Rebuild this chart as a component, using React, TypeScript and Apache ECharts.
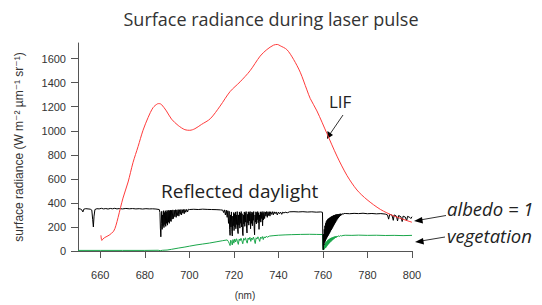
import React, { useEffect, useRef } from "react";
import * as echarts from "echarts";

const titleText = "Surface radiance during laser pulse";
const yAxisName = "surface radiance (W m⁻² µm⁻¹ sr⁻¹)";
const xAxisName = "(nm)";
const xTicks = [660, 680, 700, 720, 740, 760, 780, 800];
const yTicks = [0, 200, 400, 600, 800, 1000, 1200, 1400, 1600];

const lifData: number[][] = [
  [660.3, 130], [660.7, 88], [661.2, 100], [662, 112], [664, 132], [666, 165], [667, 210],
  [668, 279], [670.2, 440], [672.5, 574], [674.7, 735], [677, 870], [679.2, 1004],
  [681.5, 1111], [683.7, 1192], [685.7, 1224], [686.5, 1226], [687.5, 1218], [689.7, 1165],
  [692, 1097], [695, 1044], [698, 1009], [700.2, 1004], [702.5, 1017], [705.4, 1052],
  [709.4, 1100], [713.8, 1205], [718.3, 1326], [722.8, 1407], [727.3, 1500], [731.8, 1621],
  [734.8, 1675], [737.8, 1712], [739.5, 1718], [740.8, 1707], [743.8, 1675], [746.8, 1594],
  [749.8, 1487], [752.8, 1340], [754.3, 1268], [757.3, 1165], [761.8, 977], [766.3, 789],
  [770.8, 628], [775.3, 507], [779.8, 427], [785.8, 346], [791.8, 292], [800, 239],
];

const albedoData: number[][] = [
  [650, 352], [651, 350], [651.8, 340], [652.2, 325], [652.6, 348], [653.5, 352], [654.5, 350],
  [655.5, 348], [656.2, 340], [656.6, 260], [656.9, 200], [657.2, 290], [657.6, 345], [658.5, 352],
  [659.5, 350], [660.5, 355], [661.5, 350], [662.5, 353], [663.5, 349], [664.5, 354], [665.5, 351],
  [666.5, 355], [667.5, 350], [668.5, 353], [670, 350], [671.5, 354], [673, 351], [674.5, 353],
  [676, 350], [677.5, 352], [679, 349], [680.5, 352], [682, 350], [683.5, 351], [685, 349],
  [686.5, 345], [686.8, 320], [687, 190], [687.2, 118], [687.4, 230], [687.6, 330], [687.8, 180],
  [688, 300], [688.2, 210], [688.4, 335], [688.6, 195], [688.8, 320], [689, 220], [689.2, 335],
  [689.4, 205], [689.6, 325], [689.8, 230], [690, 338], [690.2, 215], [690.4, 330], [690.6, 240],
  [690.8, 340], [691, 230], [691.2, 335], [691.4, 250], [691.6, 340], [691.8, 245], [692, 338],
  [692.3, 265], [692.6, 342], [692.9, 270], [693.2, 340], [693.5, 285], [693.8, 343], [694.1, 280],
  [694.4, 342], [694.7, 295], [695, 344], [695.3, 290], [695.6, 343], [695.9, 305], [696.2, 345],
  [696.5, 300], [696.8, 344], [697.1, 315], [697.4, 345], [697.7, 310], [698, 346], [698.4, 322],
  [698.8, 346], [699.2, 325], [699.6, 347], [700, 345],
  [702, 347], [704, 345], [706, 348], [708, 346], [710, 345], [712, 344], [714, 342],
  [715, 340], [715.4, 320], [715.8, 342], [716.2, 300], [716.6, 340], [717, 280], [717.3, 335],
  [717.6, 230], [717.9, 330], [718.1, 180], [718.3, 130], [718.5, 300], [718.7, 200], [718.9, 325],
  [719.1, 160], [719.3, 125], [719.5, 290], [719.7, 210], [719.9, 320], [720.1, 170], [720.3, 310],
  [720.5, 200], [720.7, 325], [720.9, 185], [721.1, 300], [721.3, 220], [721.5, 328], [721.7, 175],
  [721.9, 145], [722.1, 300], [722.3, 215], [722.5, 325], [722.7, 190], [722.9, 315], [723.1, 230],
  [723.3, 328], [723.5, 200], [723.7, 310], [723.9, 150], [724.1, 128], [724.3, 300], [724.5, 225],
  [724.7, 325], [724.9, 205], [725.1, 318], [725.3, 240], [725.5, 328], [725.7, 190], [725.9, 150],
  [726.1, 305], [726.3, 235], [726.5, 326], [726.7, 215], [726.9, 320], [727.1, 250], [727.3, 328],
  [727.5, 185], [727.7, 310], [727.9, 230], [728.1, 325], [728.3, 210], [728.5, 318], [728.7, 255],
  [728.9, 328], [729.1, 200], [729.3, 135], [729.5, 300], [729.7, 240], [729.9, 326], [730.1, 225],
  [730.3, 320], [730.5, 260], [730.7, 328], [730.9, 235], [731.1, 318], [731.3, 180], [731.5, 300],
  [731.7, 250], [731.9, 326], [732.1, 240], [732.3, 320], [732.5, 270], [732.7, 328], [732.9, 210],
  [733.1, 315], [733.3, 260], [733.5, 327], [733.8, 270], [734.1, 325], [734.4, 290], [734.7, 328],
  [735, 280], [735.3, 326], [735.6, 295], [735.9, 327], [736.2, 290], [736.5, 326], [736.9, 305],
  [737.3, 327], [737.7, 300], [738.1, 326], [738.5, 310], [739, 325], [739.5, 300], [740, 324],
  [740.5, 310], [741, 323], [741.5, 305], [742, 324], [742.5, 315], [743, 323], [744, 318],
  [745, 326], [747, 327], [749, 325], [751, 327], [753, 324], [755, 326], [757, 323], [759, 325],
  [759.8, 322], [760, 40], [760.15, 10], [760.3, 140], [760.45, 50], [760.6, 180], [760.75, 70],
  [760.9, 210], [761.05, 80], [761.2, 230], [761.35, 95], [761.5, 245], [761.65, 105], [761.8, 255],
  [761.95, 115], [762.1, 262], [762.25, 125], [762.4, 268], [762.55, 135], [762.7, 272],
  [762.85, 145], [763, 276], [763.15, 155], [763.3, 280], [763.45, 165], [763.6, 284],
  [763.75, 175], [763.9, 287], [764.05, 185], [764.2, 290], [764.35, 195], [764.5, 293],
  [764.65, 205], [764.8, 296], [764.95, 215], [765.1, 298], [765.25, 225], [765.4, 300],
  [765.55, 235], [765.7, 302], [765.85, 245], [766, 304], [766.2, 255], [766.4, 306], [766.6, 265],
  [766.8, 307], [767, 275], [767.2, 308], [767.4, 285], [767.6, 309], [767.8, 292], [768, 310],
  [768.3, 298], [768.6, 311], [769, 305], [769.5, 312], [770, 312],
  [772, 310], [774, 313], [776, 311], [778, 314], [780, 310], [782, 312],
  [784, 309], [786, 311], [788, 307], [789, 300], [789.5, 265], [790, 305], [791, 298],
  [791.6, 255], [792, 300], [793, 290], [793.5, 250], [794, 295], [795, 285], [795.6, 245],
  [796, 290], [797, 282], [797.6, 250], [798, 288], [799, 280], [799.5, 270], [800, 285],
];

const vegetationData: number[][] = [
  [650, 5], [660, 5], [670, 5], [680, 5], [686, 6], [687, 3], [688, 6], [690, 8], [692, 14],
  [695, 24], [698, 33], [700, 40], [703, 50], [706, 58], [709, 66], [712, 76], [715, 86],
  [717, 92], [717.5, 80], [718, 60], [718.3, 45], [718.6, 90], [719, 70], [719.3, 50],
  [719.6, 95], [720, 65], [720.4, 100], [720.8, 75], [721.2, 102], [721.6, 80], [722, 55],
  [722.4, 100], [722.8, 85], [723.2, 106], [723.6, 85], [724, 60], [724.4, 105], [724.8, 90],
  [725.2, 110], [725.6, 85], [726, 65], [726.4, 108], [726.8, 95], [727.2, 114], [727.6, 80],
  [728, 108], [728.4, 95], [728.8, 116], [729.2, 90], [729.6, 62], [730, 110], [730.4, 100],
  [730.8, 118], [731.2, 102], [731.6, 80], [732, 115], [732.4, 105], [732.8, 120], [733.2, 95],
  [733.6, 118], [734, 108], [734.5, 122], [735, 115], [736, 124], [738, 128], [740, 131],
  [743, 134], [746, 136], [750, 138], [754, 139], [757, 138], [759.8, 137], [760, 15],
  [760.15, 8], [760.3, 45], [760.45, 12], [760.6, 55], [760.75, 18], [760.9, 62], [761.05, 25],
  [761.2, 70], [761.35, 30], [761.5, 76], [761.65, 38], [761.8, 82], [761.95, 45], [762.1, 88],
  [762.25, 52], [762.4, 93], [762.55, 58], [762.7, 98], [762.85, 65], [763, 102], [763.2, 72],
  [763.4, 106], [763.6, 78], [763.8, 110], [764, 85], [764.2, 113], [764.4, 92], [764.6, 116],
  [764.8, 98], [765, 119], [765.2, 104], [765.4, 121], [765.6, 108], [765.8, 123], [766, 112],
  [766.3, 125], [766.6, 117], [767, 127], [767.4, 121], [767.8, 128], [768.3, 125], [769, 129],
  [770, 131], [773, 130], [776, 132], [780, 130], [784, 131], [788, 129], [792, 130],
  [796, 128], [800, 130],
];

const annotationLabels = ["LIF", "Reflected daylight", "albedo = 1", "vegetation"];

export default function App() {
  const ref = useRef<HTMLDivElement>(null);
  useEffect(() => {
    if (!ref.current) return;
    const chart = echarts.init(ref.current, null, { renderer: "svg" });
    const tickFont = { fontFamily: "Liberation Sans, Arial, sans-serif", fontSize: 11, color: "#333" };
    const axisColor = "#555";
    const annFont = "Open Sans, sans-serif";
    chart.setOption({
      animation: false,
      backgroundColor: "#fff",
      title: {
        text: titleText,
        left: 266,
        top: 5,
        textAlign: "center",
        textStyle: { fontFamily: annFont, fontSize: 18, fontWeight: "normal", color: "#333" },
      },
      grid: { left: 78, right: 130, top: 43, bottom: 47.5 },
      xAxis: {
        type: "value",
        min: 650,
        max: 800,
        name: xAxisName,
        nameLocation: "middle",
        nameGap: 39,
        nameTextStyle: { ...tickFont, fontSize: 10 },
        axisLine: { show: true, lineStyle: { color: axisColor } },
        axisTick: { show: true, length: 7, customValues: xTicks, lineStyle: { color: axisColor } },
        axisLabel: { ...tickFont, margin: 18, customValues: xTicks },
        splitLine: { show: false },
      },
      yAxis: {
        type: "value",
        min: 0,
        max: 1730,
        name: yAxisName,
        nameLocation: "middle",
        nameRotate: 90,
        nameGap: 53,
        nameTextStyle: { fontFamily: "Liberation Sans, DejaVu Sans, sans-serif", fontSize: 12, color: "#333" },
        axisLine: { show: true, lineStyle: { color: axisColor } },
        axisTick: { show: true, length: 7, customValues: yTicks, lineStyle: { color: axisColor } },
        axisLabel: { ...tickFont, margin: 12, customValues: yTicks, formatter: (v: number) => String(v) },
        splitLine: { show: false },
      },
      series: [
        {
          type: "line", data: vegetationData, showSymbol: false, symbol: "none",
          lineStyle: { color: "#1aa64a", width: 1 }, z: 2,
        },
        {
          type: "line", data: albedoData, showSymbol: false, symbol: "none",
          lineStyle: { color: "#000", width: 1 }, z: 3,
        },
        {
          type: "line", data: lifData, showSymbol: false, symbol: "none", smooth: 0.3,
          lineStyle: { color: "#ff3b3b", width: 1 }, z: 4,
        },
      ],
      graphic: [
        { type: "text", x: 329, y: 93, style: { text: annotationLabels[0], font: `17px ${annFont}`, fill: "#222" } },
        { type: "line", shape: { x1: 343, y1: 115, x2: 330, y2: 134 }, style: { stroke: "#333", lineWidth: 1 } },
        { type: "polygon", shape: { points: [[327, 139], [327.5, 131], [333, 135]] }, style: { fill: "#000" } },
        { type: "text", x: 161, y: 181, style: { text: annotationLabels[1], font: `19px ${annFont}`, fill: "#222" } },
        { type: "text", x: 447, y: 199, style: { text: annotationLabels[2], font: `italic 18.5px ${annFont}`, fill: "#222" } },
        { type: "line", shape: { x1: 446, y1: 215.5, x2: 420, y2: 220 }, style: { stroke: "#333", lineWidth: 1 } },
        { type: "polygon", shape: { points: [[414, 221], [422, 217], [423, 223.5]] }, style: { fill: "#000" } },
        { type: "text", x: 447, y: 226, style: { text: annotationLabels[3], font: `italic 18.5px ${annFont}`, fill: "#222" } },
        { type: "line", shape: { x1: 445, y1: 237, x2: 421, y2: 241 }, style: { stroke: "#333", lineWidth: 1 } },
        { type: "polygon", shape: { points: [[415, 242], [423, 238], [424, 244.5]] }, style: { fill: "#000" } },
      ],
    });
    return () => chart.dispose();
  }, []);
  return <div ref={ref} style={{ position: "fixed", left: 0, top: 0, width: 542, height: 305 }} />;
}
